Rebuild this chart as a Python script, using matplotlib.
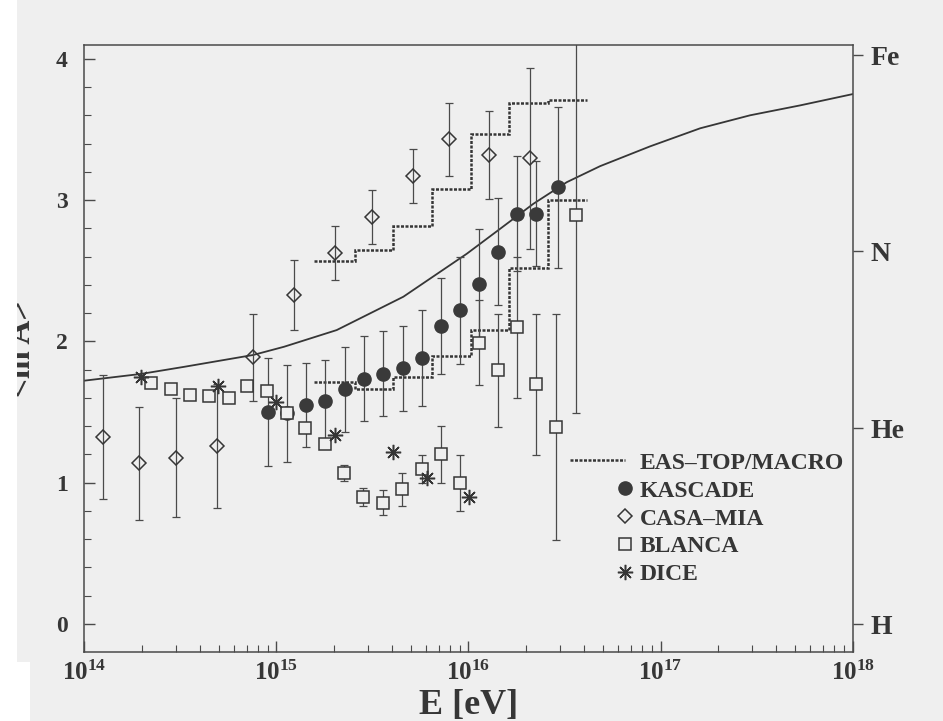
import numpy as np
import matplotlib
matplotlib.use("Agg")
import matplotlib.pyplot as plt
from matplotlib.ticker import MultipleLocator, LogLocator, NullLocator, NullFormatter
from matplotlib.legend_handler import HandlerLine2D
from matplotlib.lines import Line2D
from matplotlib.patches import Rectangle

# ---------------------------------------------------------------
# Mean logarithmic mass <ln A> versus primary energy
# energies are given as log10(E / eV)
# ---------------------------------------------------------------

# KASCADE
kascade_logE = [14.955, 15.056, 15.155, 15.255, 15.356, 15.457, 15.557, 15.658,
                15.757, 15.856, 15.956, 16.053, 16.152, 16.251, 16.351, 16.464]
kascade_lnA = [1.50, 1.49, 1.55, 1.58, 1.66, 1.735, 1.77, 1.81,
               1.88, 2.11, 2.22, 2.405, 2.635, 2.905, 2.905, 3.09]
kascade_err = [0.38, 0.34, 0.30, 0.29, 0.30, 0.30, 0.30, 0.30,
               0.34, 0.34, 0.38, 0.39, 0.38, 0.41, 0.37, 0.57]

# CASA-MIA
casa_logE = [14.098, 14.285, 14.476, 14.690, 14.880, 15.092,
             15.306, 15.496, 15.710, 15.900, 16.109, 16.321]
casa_lnA = [1.325, 1.137, 1.177, 1.262, 1.887, 2.328,
            2.626, 2.880, 3.170, 3.430, 3.320, 3.296]
casa_err = [0.44, 0.40, 0.42, 0.44, 0.31, 0.25,
            0.19, 0.19, 0.19, 0.26, 0.31, 0.64]

# BLANCA
blanca_logE = [14.350, 14.452, 14.551, 14.651, 14.751, 14.846, 14.952, 15.053,
               15.151, 15.251, 15.354, 15.453, 15.553, 15.656, 15.756, 15.856,
               15.956, 16.054, 16.154, 16.252, 16.353, 16.457, 16.559]
blanca_lnA = [1.709, 1.660, 1.624, 1.611, 1.598, 1.683, 1.647, 1.490,
              1.390, 1.277, 1.070, 0.900, 0.858, 0.952, 1.098, 1.200,
              0.997, 1.990, 1.797, 2.099, 1.697, 1.396, 2.896]
blanca_err = [0.0, 0.0, 0.0, 0.0, 0.0, 0.0, 0.0, 0.0,
              0.0, 0.0, 0.055, 0.065, 0.09, 0.12, 0.10, 0.20,
              0.20, 0.30, 0.40, 0.50, 0.50, 0.80, 1.40]

# DICE
dice_logE = [14.298, 14.694, 15.000, 15.307, 15.607, 15.783, 16.004]
dice_lnA = [1.748, 1.683, 1.570, 1.340, 1.218, 1.035, 0.896]

# EAS-TOP/MACRO allowed band (bin edges, upper and lower bounds)
eastop_edges_logE = [15.196, 15.409, 15.609, 15.811, 16.012, 16.213, 16.412, 16.615]
eastop_upper = [2.57, 2.65, 2.82, 3.08, 3.47, 3.685, 3.71]
eastop_lower = [1.715, 1.663, 1.745, 1.90, 2.08, 2.52, 3.00]

# model expectation
model_logE = [14.00, 14.297, 14.52, 14.88, 15.04, 15.314, 15.661, 15.991, 16.165,
              16.338, 16.512, 16.685, 16.945, 17.206, 17.466, 17.726, 18.00]
model_lnA = [1.722, 1.77, 1.82, 1.904, 1.962, 2.08, 2.316, 2.62, 2.797,
             2.974, 3.127, 3.24, 3.38, 3.508, 3.60, 3.67, 3.75]

# reference nuclei on the right-hand axis
element_labels = ["H", "He", "N", "Fe"]
mass_numbers = [1, 4, 14, 56]


def to_eV(logE):
    return np.power(10.0, np.asarray(logE))


plt.rcParams.update({
    "font.family": ["Liberation Serif", "DejaVu Serif"],
    "font.weight": "bold",
    "mathtext.fontset": "custom",
    "mathtext.rm": "Liberation Serif",
    "mathtext.bf": "Liberation Serif:bold",
})

BG = "#efefef"
INK = "#363636"
LINE = "#4a4a4a"

fig = plt.figure(figsize=(9.43, 7.21), dpi=100, facecolor=BG)
ax = fig.add_axes([0.0893, 0.0957, 0.8150, 0.8424])
ax.set_facecolor(BG)
ax.set_xscale("log")
ax.set_xlim(1e14, 1e18)
ax.set_ylim(-0.198, 4.10)

# model curve
ax.plot(to_eV(model_logE), model_lnA, color=INK, lw=1.3, zorder=2)

# EAS-TOP/MACRO band boundaries
dash = (0, (1.2, 0.6))
for bound in (eastop_upper, eastop_lower):
    ax.stairs(bound, to_eV(eastop_edges_logE), baseline=None,
              color=INK, lw=1.8, linestyle=dash, zorder=3)

eb = dict(fmt="none", ecolor=LINE, elinewidth=0.9, capsize=3.2, capthick=0.9, zorder=4)
ax.errorbar(to_eV(casa_logE), casa_lnA, yerr=casa_err, **eb)
ax.errorbar(to_eV(kascade_logE), kascade_lnA, yerr=kascade_err, **eb)
blanca_has_err = [e > 0 for e in blanca_err]
ax.errorbar(to_eV(np.asarray(blanca_logE)[blanca_has_err]),
            np.asarray(blanca_lnA)[blanca_has_err],
            yerr=np.asarray(blanca_err)[blanca_has_err], **eb)

star = (8, 2, 0)
ax.plot(to_eV(casa_logE), casa_lnA, ls="none", marker="D", ms=7.2,
        mfc="none", mec=INK, mew=1.1, zorder=5)
ax.plot(to_eV(kascade_logE), kascade_lnA, ls="none", marker="o", ms=9.5,
        mfc="#3a3a3a", mec="#3a3a3a", zorder=6)
ax.plot(to_eV(blanca_logE), blanca_lnA, ls="none", marker="s", ms=9.0,
        mfc=BG, mec=INK, mew=1.1, zorder=7)
ax.plot(to_eV(dice_logE), dice_lnA, ls="none", marker=star, ms=11,
        mec=INK, mew=1.1, zorder=8)

# axes styling
for sp in ax.spines.values():
    sp.set_color(LINE)
    sp.set_linewidth(1.1)

ax.xaxis.set_major_locator(LogLocator(base=10, numticks=10))
ax.xaxis.set_minor_locator(LogLocator(base=10, subs=np.arange(2, 10), numticks=50))
ax.xaxis.set_minor_formatter(NullFormatter())
ax.yaxis.set_major_locator(MultipleLocator(1))
ax.yaxis.set_minor_locator(MultipleLocator(0.2))

ax.tick_params(axis="both", which="both", direction="in", top=False, right=False,
               color=LINE, labelcolor=INK)
ax.tick_params(axis="y", which="major", length=8, width=1.0, pad=12, labelsize=17)
ax.tick_params(axis="y", which="minor", length=5, width=0.8)
ax.tick_params(axis="x", which="major", length=8, width=1.0, pad=6, labelsize=18)
ax.tick_params(axis="x", which="minor", length=5, width=0.8)
for lab in ax.get_yticklabels():
    lab.set_fontweight("bold")

ax.set_xlabel("E [eV]", fontsize=26, fontweight="bold", color=INK, labelpad=3)
ax.set_ylabel("<ln A>", fontsize=24, fontweight="bold", color=INK)
ax.yaxis.set_label_coords(-0.062, 0.5)

# nuclear mass scale on the right
ax2 = ax.twinx()
ax2.set_ylim(ax.get_ylim())
ax2.set_yticks(np.log(mass_numbers))
ax2.set_yticklabels(element_labels)
ax2.yaxis.set_minor_locator(NullLocator())
ax2.tick_params(axis="y", direction="out", length=7, width=1.0, pad=6,
                labelsize=20, color=LINE, labelcolor=INK)
for lab in ax2.get_yticklabels():
    lab.set_fontweight("bold")
for sp in ax2.spines.values():
    sp.set_visible(False)


class RightMarkerHandler(HandlerLine2D):
    """Place a single legend marker at the right end of the handle."""

    def get_xdata(self, legend, xdescent, ydescent, width, height, fontsize):
        xm = -xdescent + width
        return [xm - 1.0, xm + 1.0], [xm]


handles = [
    Line2D([], [], color=INK, lw=1.8, linestyle=dash),
    Line2D([], [], ls="none", marker="o", ms=9.5, mfc="#3a3a3a", mec="#3a3a3a"),
    Line2D([], [], ls="none", marker="D", ms=7.2, mfc="none", mec=INK, mew=1.1),
    Line2D([], [], ls="none", marker="s", ms=9.0, mfc=BG, mec=INK, mew=1.1),
    Line2D([], [], ls="none", marker=star, ms=11, mec=INK, mew=1.1),
]
labels = ["EAS\u2013TOP/MACRO", "KASCADE", "CASA\u2013MIA", "BLANCA", "DICE"]
hm = {h: RightMarkerHandler(numpoints=1) for h in handles[1:]}
leg = ax.legend(handles, labels, loc="upper left", bbox_to_anchor=(0.632, 0.329),
                frameon=False, handlelength=2.33, handletextpad=0.64,
                labelspacing=0.27, borderpad=0, borderaxespad=0, handler_map=hm,
                prop={"family": "Liberation Serif", "weight": "bold", "size": 17})
for t in leg.get_texts():
    t.set_color(INK)

# paper margin of the page
fig.add_artist(Rectangle((0, 0), 17 / 943, 1, transform=fig.transFigure,
                         facecolor="white", edgecolor="none", zorder=20))
fig.add_artist(Rectangle((0, 0), 30 / 943, 59 / 721, transform=fig.transFigure,
                         facecolor="white", edgecolor="none", zorder=20))

fig.savefig("out.png", dpi=100, facecolor=BG)
